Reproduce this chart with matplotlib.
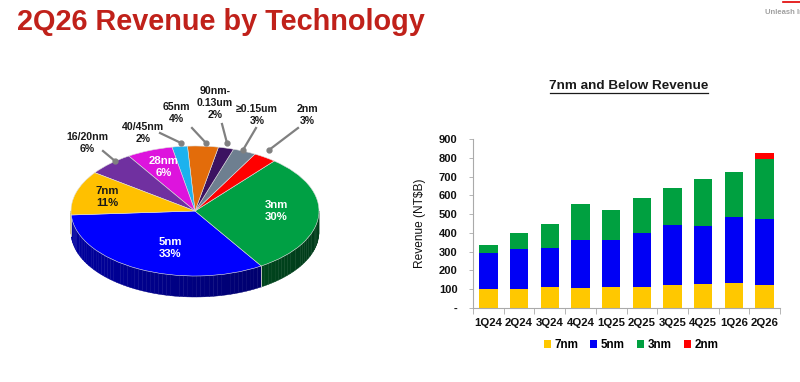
import numpy as np
import matplotlib
matplotlib.use("Agg")
import matplotlib.pyplot as plt
from matplotlib.patches import Polygon, Patch
from matplotlib.lines import Line2D
from matplotlib import colors as mcolors

plt.rcParams['font.family'] = ['Liberation Sans', 'DejaVu Sans']
plt.rcParams['font.weight'] = 'bold'

# ---------------- data ----------------
pie_labels = ['5nm', '3nm', '2nm', '≥0.15um', '90nm-\n0.13um', '65nm', '40/45nm', '28nm', '16/20nm', '7nm']
pie_values = [33, 30, 3, 3, 2, 4, 2, 6, 6, 11]
pie_colors = ['#0000FF', '#00A044', '#FF0000', '#6E7F90', '#3C1361', '#E36C0A', '#1CB2EE', '#DD14DD', '#7030A0', '#FFC000']

quarters = ['1Q24', '2Q24', '3Q24', '4Q24', '1Q25', '2Q25', '3Q25', '4Q25', '1Q26', '2Q26']
rev_7nm = [100, 100, 112, 107, 110, 114, 121, 128, 131, 124]
rev_5nm = [193, 214, 206, 255, 252, 286, 321, 309, 352, 350]
rev_3nm = [44, 86, 128, 194, 162, 188, 197, 249, 240, 320]
rev_2nm = [0, 0, 0, 0, 0, 0, 0, 0, 0, 32]
series_names = ['7nm', '5nm', '3nm', '2nm']
series_colors = ['#FFC800', '#0000F5', '#00A040', '#FF0000']
ytick_values = [0, 100, 200, 300, 400, 500, 600, 700, 800, 900]
ytick_labels = ['-', '100', '200', '300', '400', '500', '600', '700', '800', '900']

W, H = 800, 382
fig = plt.figure(figsize=(W / 100, H / 100), dpi=100)
fig.patch.set_facecolor('white')

def fx(px):
    return px / W

def fy(py):
    return 1 - py / H

# ---------------- header ----------------
fig.text(fx(17), fy(22), '2Q26 Revenue by Technology', color='#C0211A', fontsize=20.8,
         fontweight='bold', va='center', ha='left')
fig.text(fx(765), fy(13), 'Unleash Innovation', color='#A0A0A0', fontsize=5.5,
         fontweight='bold', va='center', ha='left')
fig.add_artist(Line2D([fx(783), fx(800)], [fy(2), fy(2)], color='#E00000', lw=1.2))

# ---------------- 3D-style pie ----------------
cx, cy, rx, ry = 195, 211, 124, 65
depth = 21 / ry
axp = fig.add_axes([0, 0, 400 / W, (H - 60) / H])
start = 183.5
wedges, _ = axp.pie(pie_values, colors=pie_colors, startangle=start, counterclock=True,
                    radius=1, center=(0, 0),
                    wedgeprops=dict(edgecolor='#DDDDDD', linewidth=0.4))
for w in wedges:
    w.set_zorder(5)
axp.set_aspect('auto')
axp.set_xlim(-cx / rx, (400 - cx) / rx)
axp.set_ylim((cy - H) / ry, (cy - 60) / ry)
axp.axis('off')

# side walls for front-facing parts
tot = float(sum(pie_values))
a0 = start
for val, col in zip(pie_values, pie_colors):
    a1 = a0 + 360.0 * val / tot
    base = np.array(mcolors.to_rgb(col))
    for off in (0, 360, -360):
        lo = max(a0 + off, 180)
        hi = min(a1 + off, 360)
        if hi > lo:
            segs = np.linspace(lo, hi, max(2, int((hi - lo) / 2) + 2))
            for s0, s1 in zip(segs[:-1], segs[1:]):
                t = np.radians(np.linspace(s0, s1, 4))
                xs = np.cos(t)
                ys = np.sin(t)
                poly = np.vstack([np.column_stack([xs, ys]),
                                  np.column_stack([xs[::-1], ys[::-1] - depth])])
                tm = np.radians((s0 + s1) / 2)
                f = 0.62 - 0.25 * (np.cos(tm) + 1) / 2
                c = np.clip(base * f, 0, 1)
                axp.add_patch(Polygon(poly, closed=True, facecolor=c, edgecolor=c,
                                      lw=0.3, zorder=2))
    for ang in (a0, a1):
        am = ang % 360
        if 180 < am < 360:
            t = np.radians(am)
            axp.plot([np.cos(t), np.cos(t)], [np.sin(t), np.sin(t) - depth],
                     color='#CCCCCC', lw=0.5, zorder=3)
    a0 = a1

def pct(name, v):
    return f'{name}\n{v}%'

inside = {'3nm': (276, 211, 'white'), '5nm': (170, 248, 'white'),
          '7nm': (107, 197, '#1A1A1A'), '28nm': (164, 167, 'white')}
for name, val in zip(pie_labels, pie_values):
    if name in inside:
        px, py, c = inside[name]
        fig.text(fx(px), fy(py), pct(name, val), color=c, fontsize=8.2, fontweight='bold',
                 ha='center', va='center', linespacing=1.3)

outside = {'16/20nm': ((87, 143), (103, 151), (115, 161)),
           '40/45nm': ((143, 133), (160, 133), (181, 143)),
           '65nm': ((176, 113), (192, 128), (206, 143)),
           '90nm-\n0.13um': ((215, 103), (222, 124), (227, 143)),
           '≥0.15um': ((257, 115), (256, 128), (243, 150)),
           '2nm': ((307, 115), (298, 128), (269, 150))}
for name, val in zip(pie_labels, pie_values):
    if name in outside:
        (tx, ty), (l0x, l0y), (l1x, l1y) = outside[name]
        fig.text(fx(tx), fy(ty), pct(name, val), color='#1A1A1A', fontsize=7.6,
                 fontweight='bold', ha='center', va='center', linespacing=1.3)
        fig.add_artist(Line2D([fx(l0x), fx(l1x)], [fy(l0y), fy(l1y)], color='#808080', lw=1.6))
        fig.add_artist(Line2D([fx(l1x)], [fy(l1y)], marker='o', ms=3.5, color='#808080', lw=0))

# ---------------- stacked bar chart ----------------
left, right, top, bottom = 473, 780, 139, 308
axb = fig.add_axes([fx(left), fy(bottom), (right - left) / W, (bottom - top) / H])
x = np.arange(len(quarters))
bottoms = np.zeros(len(quarters))
handles = []
for vals, c, nm in zip([rev_7nm, rev_5nm, rev_3nm, rev_2nm], series_colors, series_names):
    v = np.array(vals, dtype=float)
    axb.bar(x, v, 0.6, bottom=bottoms, color=c, edgecolor='none')
    bottoms += v
    handles.append(Patch(facecolor=c, edgecolor='none', label=nm))
axb.set_xlim(-0.5, len(quarters) - 0.5)
axb.set_ylim(0, 900)
axb.set_yticks(ytick_values)
axb.set_yticklabels(ytick_labels)
axb.set_xticks(x)
axb.set_xticklabels(quarters)
axb.set_xticks(np.arange(-0.5, len(quarters)), minor=True)
axb.tick_params(axis='x', which='major', length=0, pad=7, labelsize=8.2, labelcolor='#111111')
axb.tick_params(axis='x', which='minor', length=4, width=0.6, color='#AAAAAA')
axb.tick_params(axis='y', length=3, width=0.6, color='#AAAAAA', pad=8, labelsize=8,
                labelcolor='#111111')
for lab in axb.get_xticklabels() + axb.get_yticklabels():
    lab.set_fontweight('bold')
for s in ['top', 'right']:
    axb.spines[s].set_visible(False)
for s in ['left', 'bottom']:
    axb.spines[s].set_color('#AAAAAA')
    axb.spines[s].set_linewidth(0.8)
axb.set_ylabel('Revenue (NT$B)', fontsize=8.6, fontweight='normal', labelpad=9, color='#111111')

fig.text(fx(629), fy(86), '7nm and Below Revenue', fontsize=9.7, fontweight='bold',
         ha='center', va='center', color='#1A1A1A')
fig.add_artist(Line2D([fx(550), fx(708)], [fy(93), fy(93)], color='#1A1A1A', lw=0.9))

leg = fig.legend(handles=handles, loc='center', bbox_to_anchor=(fx(631), fy(345)),
                 ncol=4, frameon=False, fontsize=8.4, handlelength=0.6, handleheight=0.6,
                 handletextpad=0.3, columnspacing=1.05)
for t in leg.get_texts():
    t.set_fontweight('bold')

fig.savefig('out.png', dpi=100, facecolor='white')
